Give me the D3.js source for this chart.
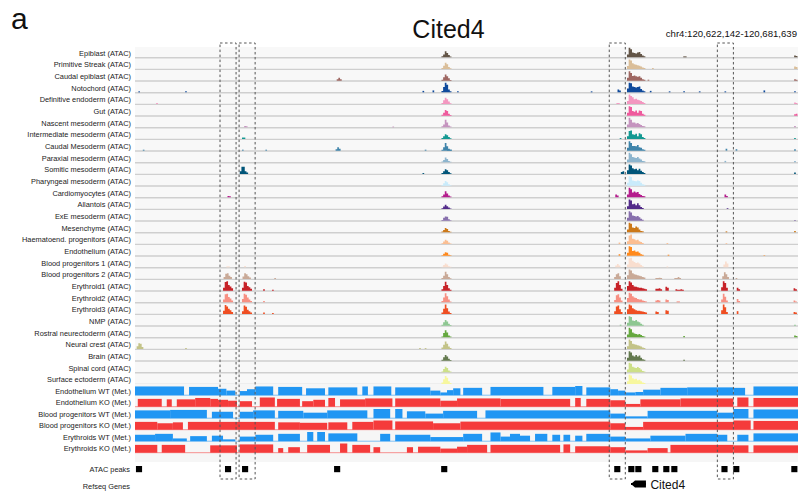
<!DOCTYPE html>
<html><head><meta charset="utf-8">
<script src="https://cdn.jsdelivr.net/npm/d3@7"></script>
<style>
html,body{margin:0;padding:0;background:#fff;}
svg{display:block;font-family:"Liberation Sans",Arial,Helvetica,sans-serif;}
</style></head><body>
<svg id="chart" width="798" height="494"></svg>
<script>
// ---- locus ----
const regionStart = 120622142, regionEnd = 120681639;
const regionLabel = "chr4:120,622,142-120,681,639";
const panelLetter = "a";
const geneTitle = "Cited4";

// ---- ATAC tracks ----
const atacLabels = ["Epiblast","Primitive Streak","Caudal epiblast","Notochord","Definitive endoderm","Gut",
  "Nascent mesoderm","Intermediate mesoderm","Caudal Mesoderm","Paraxial mesoderm","Somitic mesoderm",
  "Pharyngeal mesoderm","Cardiomyocytes","Allantois","ExE mesoderm","Mesenchyme","Haematoend. progenitors",
  "Endothelium","Blood progenitors 1","Blood progenitors 2","Erythroid1","Erythroid2","Erythroid3","NMP",
  "Rostral neurectoderm","Neural crest","Brain","Spinal cord","Surface ectoderm"];
const atacColors = ["#635547","#DABE99","#9e6762","#0F4A9C","#F397C0","#EF5A9D","#C594BF","#139992",
  "#3F84AA","#8DB5CE","#005579","#C9EBFB","#B51D8D","#532C8A","#8870ad","#cc7818","#FBBE92","#ff891c",
  "#f9decf","#c9a997","#C72228","#f79083","#EF4E22","#8EC792","#65A83E","#C3C388","#647a4f","#CDE088","#f7f79e"];

// signal bins are 0.15 kb wide; positions in kb from region start
const binKb = 0.15;
const centralStartKb = 27.5;
const clusterStartKb = 44.15;
const atacCentral = [
  [0.1,0.3,0.65,0.45,0.25,0.08],[0.1,0.35,0.65,0.5,0.2,0.08],[0.1,0.35,0.65,0.45,0.25,0.08],
  [0.15,0.55,1.0,0.8,0.3,0.1],[0.1,0.4,0.65,0.5,0.25,0.08],[0.1,0.3,0.6,0.5,0.2,0.08],
  [0.1,0.3,0.8,0.5,0.2,0.08],[0.1,0.3,0.5,0.4,0.2,0.08],[0.1,0.35,0.8,0.45,0.2,0.1],
  [0.08,0.25,0.5,0.35,0.15,0.05],[0.1,0.3,0.5,0.4,0.2,0.08],[0.08,0.25,0.5,0.35,0.15,0.05],
  [0.1,0.3,0.65,0.4,0.2,0.08],[0.08,0.25,0.45,0.3,0.15,0.05],[0.08,0.3,0.45,0.4,0.15,0.05],
  [0.08,0.25,0.45,0.35,0.15,0.05],[0.08,0.25,0.45,0.35,0.15,0.05],[0.05,0.2,0.35,0.3,0.1,0.05],
  [0.05,0.25,0.4,0.3,0.12,0.05],[0.1,0.35,0.75,0.5,0.2,0.08],[0.15,0.5,0.95,0.6,0.25,0.1],
  [0.15,0.5,0.95,0.65,0.3,0.1],[0.15,0.55,1.0,0.6,0.25,0.1],[0.1,0.35,0.6,0.45,0.2,0.08],
  [0.1,0.45,0.75,0.5,0.2,0.08],[0.15,0.45,0.8,0.55,0.25,0.1],[0.1,0.35,0.6,0.45,0.2,0.08],
  [0.1,0.35,0.6,0.45,0.2,0.08],[0.15,0.5,0.85,0.65,0.3,0.1]
];
const atacCluster = [
  [0.3,1,0.85,0.5,0.45,0.4,0.5,0.55,0.35,0.2,0.1],
  [0.3,1,0.9,0.6,0.5,0.45,0.4,0.35,0.25,0.15,0.1],
  [0.3,1,0.8,0.5,0.55,0.45,0.4,0.45,0.3,0.15,0.1],
  [0.4,1,0.95,0.6,0.55,0.5,0.55,0.6,0.35,0.2,0.1],
  [0.3,1,0.85,0.7,0.5,0.55,0.45,0.4,0.3,0.2,0.1],
  [0.3,1,0.9,0.5,0.4,0.55,0.3,0.55,0.5,0.2,0.1],
  [0.3,1,0.8,0.5,0.5,0.4,0.45,0.35,0.25,0.15,0.1],
  [0.3,0.85,0.9,0.5,0.45,0.55,0.3,0.6,0.5,0.2,0.1],
  [0.3,1,0.8,0.5,0.5,0.45,0.6,0.35,0.3,0.15,0.1],
  [0.3,1,0.85,0.55,0.5,0.45,0.55,0.4,0.3,0.15,0.1],
  [0.4,1,0.9,0.6,0.5,0.55,0.4,0.55,0.35,0.2,0.1],
  [0.3,1,0.9,0.55,0.5,0.45,0.55,0.5,0.3,0.15,0.1],
  [0.3,1,0.85,0.5,0.6,0.5,0.55,0.35,0.25,0.15,0.1],
  [0.3,1,0.9,0.5,0.55,0.4,0.6,0.4,0.2,0.1],
  [0.3,1,0.85,0.55,0.5,0.45,0.5,0.35,0.2,0.1],
  [0.3,1,0.9,0.5,0.45,0.6,0.5,0.3,0.15,0.1],
  [0.3,0.9,1,0.55,0.5,0.4,0.45,0.3,0.2,0.1],
  [0.3,1,0.9,0.5,0.55,0.4,0.45,0.3,0.15,0.1],
  [0.3,0.95,1,0.7,0.55,0.45,0.5,0.4,0.25,0.1],
  [0.4,1,0.9,0.6,0.5,0.45,0.4,0.35,0.3,0.2,0.15],
  [0.5,1,0.85,0.6,0.45,0.4,0.35,0.3,0.3,0.25,0.2,0.15],
  [0.45,1,0.9,0.65,0.5,0.45,0.35,0.3,0.3,0.2,0.15,0.1],
  [0.5,1,0.9,0.6,0.5,0.4,0.35,0.35,0.3,0.25,0.2,0.15],
  [0.3,1,0.9,0.55,0.5,0.6,0.45,0.35,0.2,0.1],
  [0.3,1,0.85,0.5,0.4,0.35,0.3,0.35,0.25,0.15,0.1],
  [0.3,1,0.85,0.55,0.5,0.45,0.4,0.35,0.25,0.15,0.1],
  [0.3,1,0.85,0.55,0.45,0.6,0.45,0.55,0.3,0.15,0.1],
  [0.3,1,0.9,0.6,0.5,0.45,0.55,0.45,0.3,0.15,0.1],
  [0.3,1,0.9,0.6,0.5,0.55,0.4,0.45,0.3,0.15,0.1]
];
// further peaks per track: [start kb, bin values]
const atacMinor = [
  [[49.2,[0.1,0.1]],[59.15,[0.2,0.15]]],
  [[46.4,[0.1]],[59.15,[0.25,0.2]]],
  [[18.1,[0.15,0.3,0.15]],[46.0,[0.1]],[59.15,[0.15,0.1]]],
  [[0.3,[0.1]],[4.5,[0.1]],[25.8,[0.15]],[26.7,[0.2]],[28.9,[0.1]],[40.9,[0.1]],[43.3,[0.3,0.2]],[46.2,[0.15]],[47.9,[0.1]],[49.2,[0.1]],[50.6,[0.1]],[52.9,[0.1]],[56.4,[0.2]],[59.15,[0.1]]],
  [[1.9,[0.1]],[43.2,[0.1,0.1]],[59.15,[0.15,0.1]]],
  [[59.15,[0.15,0.2]]],
  [[9.8,[0.15,0.1]],[23.1,[0.08]],[59.15,[0.15]]],
  [[9.6,[0.15,0.15]],[43.5,[0.1]],[59.15,[0.1]]],
  [[0.7,[0.1]],[9.6,[0.1]],[11.7,[0.1]],[18.0,[0.15,0.35,0.2]],[26.0,[0.1]],[28.0,[0.1,0.1,0.1]],[53.0,[0.2]],[53.9,[0.15]],[59.15,[0.15]]],
  [[52.9,[0.15]],[59.15,[0.15]]],
  [[9.4,[0.3,0.75,0.75,0.3,0.15]],[25.8,[0.1]],[43.6,[0.2,0.3]],[59.15,[0.15]]],
  [],
  [[8.3,[0.15,0.1]],[43.1,[0.3,0.2]],[52.9,[0.3,0.15]]],
  [[53.1,[0.08]]],
  [[59.15,[0.08]]],
  [[53.0,[0.1]],[59.15,[0.15]]],
  [[43.4,[0.15]],[47.7,[0.1]],[53.0,[0.08]]],
  [[43.4,[0.15]],[47.8,[0.1]],[56.4,[0.05]]],
  [[8.2,[0.1,0.1]],[9.8,[0.15]],[43.1,[0.2,0.35,0.2]],[47.7,[0.1]],[52.8,[0.3,0.6,0.4]]],
  [[7.95,[0.2,0.55,0.6,0.35,0.2]],[9.65,[0.25,0.6,0.5,0.3,0.15]],[12.5,[0.1]],[43.0,[0.2,0.5,0.6,0.3]],[46.7,[0.1,0.1,0.12,0.1]],[48.4,[0.1,0.1,0.2,0.1]],[52.7,[0.3,0.7,0.5,0.2]],[53.9,[0.1]]],
  [[7.9,[0.3,0.9,1.0,0.6,0.45,0.25]],[9.6,[0.3,0.95,0.85,0.5,0.35,0.2]],[11.5,[0.15]],[12.3,[0.1]],[43.0,[0.3,0.8,1.0,0.6,0.2]],[46.7,[0.2,0.2,0.25,0.15]],[47.6,[0.4,0.3]],[48.5,[0.15,0.1,0.1,0.15,0.1]],[52.6,[0.35,1.0,0.8,0.3]],[54.0,[0.3,0.15]],[59.1,[0.25,0.15]]],
  [[7.9,[0.3,0.85,0.9,0.55,0.4,0.2]],[9.6,[0.35,0.9,0.8,0.5,0.3,0.15]],[11.5,[0.15]],[43.0,[0.25,0.75,0.85,0.5,0.2]],[46.7,[0.2,0.25,0.2]],[47.6,[0.3,0.25]],[48.6,[0.1,0.1]],[52.6,[0.3,0.9,0.6,0.2]],[54.0,[0.35,0.15]],[59.1,[0.2,0.1]]],
  [[7.9,[0.35,0.95,0.8,0.55,0.4,0.2]],[9.6,[0.3,0.9,0.75,0.45,0.3,0.15]],[11.5,[0.15]],[12.3,[0.1]],[43.0,[0.3,0.8,0.9,0.5,0.2]],[46.7,[0.25,0.2]],[47.6,[0.4,0.35]],[52.6,[0.4,1.0,0.7,0.2]],[54.0,[0.3]],[59.1,[0.2,0.15]]],
  [[43.5,[0.1]],[59.15,[0.1]]],
  [[49.2,[0.15]],[59.15,[0.2,0.15]]],
  [[0.15,[0.3,0.6,0.55,0.2]],[4.5,[0.1]],[25.5,[0.1]],[26.0,[0.1]]],
  [[49.2,[0.1]]],
  [],
  []
];

// ---- methylation tracks: [start kb, end kb, level] ----
const metLabels = ["Endothelium WT (Met.)","Endothelium KO (Met.)","Blood progenitors WT (Met.)",
  "Blood progenitors KO (Met.)","Erythroids WT (Met.)","Erythroids KO (Met.)"];
const metColors = ["#2196f3","#f53b3b","#2196f3","#f53b3b","#2196f3","#f53b3b"];
const metEndoWT = [[0,4.4,0.95],[4.85,7.45,0.9],[7.45,8.2,0.7],[8.2,9.0,0.5],[9.4,10.05,0.45],[10.05,10.8,0.65],
  [10.8,12.4,0.95],[12.85,15.0,0.9],[15.35,17.05,0.75],[17.35,19.95,0.85],[20.4,20.9,0.95],[21.4,23.0,0.95],
  [23.35,26.5,0.85],[26.5,27.4,0.5],[27.4,28.0,0.3],[28.0,28.55,0.55],[28.55,29.2,0.75],[29.45,31.15,0.8],
  [31.9,36.65,0.9],[37.45,39.5,0.9],[39.5,40.15,1.0],[40.5,42.65,0.85],[42.65,43.35,0.65],[43.35,44.0,0.5],
  [44.0,44.9,0.3],[44.9,45.6,0.35],[45.6,47.15,0.6],[47.15,49.55,0.8],[49.55,52.25,0.85],[52.25,53.7,0.85],
  [53.7,54.75,0.8],[55.5,59.5,0.95]];
const metEndoKO = [[0.25,2.4,0.85],[2.85,3.3,0.8],[3.75,5.4,0.8],[5.4,6.75,0.95],[6.75,7.45,0.85],[7.45,8.35,0.75],
  [8.35,9.15,0.65],[9.4,10.5,0.6],[11.2,12.55,1.0],[12.75,14.8,0.85],[15.0,16.0,0.6],[16.0,17.05,0.75],
  [17.35,17.95,0.95],[18.4,20.65,0.8],[20.65,23.1,0.9],[23.35,27.4,0.9],[27.4,28.9,0.65],[28.9,32.8,0.9],
  [32.8,39.05,0.85],[39.5,40.0,0.95],[40.5,42.65,0.85],[42.65,44.0,0.7],[44.0,45.35,0.3],[45.35,48.95,0.8],
  [48.95,53.7,0.9],[54.05,55.05,1.0],[55.5,59.5,0.95]];
const metBloodWT = [[0,3.15,0.85],[3.15,6.45,0.9],[6.9,8.8,0.7],[9.4,10.6,0.7],[10.6,12.55,0.85],[12.85,15.1,0.8],
  [15.1,17.25,0.6],[17.25,20.85,0.85],[21.4,22.9,1.0],[23.35,24.0,1.0],[24.4,26.05,0.75],[26.05,27.65,0.5],
  [27.65,30.7,0.8],[31.45,42.65,0.85],[42.65,44.0,0.5],[44.0,46.0,0.2],[46.0,52.25,0.8],[52.25,53.7,0.6],
  [53.7,55.05,1.0],[55.5,59.5,0.95]];
const metBloodKO = [[0,2.0,0.85],[2.0,3.4,0.7],[3.4,4.3,0.8],[4.75,12.55,0.85],[12.85,14.8,0.8],[14.8,17.25,0.75],
  [17.35,19.05,0.8],[19.5,21.4,0.85],[21.4,23.1,1.0],[23.35,26.75,0.9],[26.75,29.2,0.7],[29.2,42.65,0.88],
  [42.65,44.0,0.7],[44.0,45.6,0.3],[45.6,53.7,0.85],[53.7,55.25,1.0],[55.5,59.5,0.95]];
const metEryWT = [[0,1.8,0.7],[1.8,3.4,0.8],[3.4,4.65,0.3],[4.95,6.45,0.55],[6.9,7.9,0.6],[7.9,9.0,0.2],
  [9.4,10.8,0.5],[10.8,12.4,0.7],[12.85,14.8,0.8],[15.45,16.0,1.0],[16.35,17.05,1.0],[17.35,19.95,0.85],
  [22.0,22.9,0.8],[23.35,26.5,0.7],[26.5,29.45,0.45],[29.45,31.15,0.8],[31.9,32.8,0.95],[32.8,33.65,0.5],
  [33.65,34.55,0.8],[34.55,35.45,0.6],[35.9,37.0,0.8],[37.45,38.15,0.7],[38.45,39.05,0.7],[39.5,40.15,0.6],
  [40.5,42.65,0.8],[42.65,44.0,0.5],[44.0,46.25,0.3],[46.25,49.4,0.6],[49.4,52.25,0.8],[52.25,53.15,0.7],
  [54.05,55.05,0.7],[55.5,59.5,0.85]];
const metEryKO = [[0,2.0,0.85],[2.4,4.5,0.85],[6.75,9.15,0.8],[9.4,12.4,0.9],[12.85,13.3,0.5],[13.75,14.8,0.6],
  [15.45,17.5,0.85],[18.4,19.05,1.0],[19.5,21.1,0.85],[21.4,22.0,0.6],[24.4,24.95,0.6],[25.4,27.4,0.65],
  [27.4,28.9,0.45],[28.9,29.8,0.65],[29.8,31.6,0.85],[31.9,38.15,0.85],[38.45,39.05,0.9],[39.5,42.65,0.7],
  [42.65,44.0,0.6],[44.0,46.0,0.25],[46.0,47.8,0.5],[48.05,53.7,0.85],[53.7,55.05,0.8],[55.5,59.5,0.8]];
const metTracks = [metEndoWT, metEndoKO, metBloodWT, metBloodKO, metEryWT, metEryKO];

// ---- annotation tracks ----
const peakTrackLabels = ["ATAC peaks", "Refseq Genes"];
const atacPeakCentersKb = [0.36, 8.35, 9.88, 18.14, 27.75, 43.28, 44.54, 45.17, 46.69, 47.68, 48.4, 52.9, 53.96, 59.17];
const atacPeakWidthKb = 0.55;
const geneName = "Cited4";
const geneSpanKb = [44.6, 45.85];
const highlightKb = [[7.63, 9.07], [9.34, 10.78], [42.56, 44.0], [52.26, 53.7]];

// ---- layout ----
const svg = d3.select("#chart");
const spanKb = (regionEnd - regionStart) / 1000;
const x = d3.scaleLinear().domain([0, spanKb]).range([135, 798]);
const atacBottom = d3.scaleLinear().domain([0, atacLabels.length - 1]).range([57.3, 384]);
const atacH = d3.scaleLinear().domain([0, 1]).range([0, 9.5]);
const metBottom = d3.scaleLinear().domain([0, metLabels.length - 1]).range([395.2, 452.7]);
const metH = d3.scaleLinear().domain([0, 1]).range([0, 9.2]);
const labelX = 131;

// headings
svg.append("text").attr("x", 11).attr("y", 29).attr("font-size", 30).attr("fill", "#111").text(panelLetter);
svg.append("text").attr("x", 448.5).attr("y", 38).attr("text-anchor", "middle").attr("font-size", 25).attr("fill", "#111").text(geneTitle);
svg.append("text").attr("x", 797).attr("y", 37).attr("text-anchor", "end").attr("font-size", 9.6).attr("fill", "#111").text(regionLabel);

// ATAC panel background
svg.append("rect").attr("x", x(0)).attr("y", 47).attr("width", x(spanKb) - x(0)).attr("height", atacBottom(atacLabels.length - 1) - 47).attr("fill", "#f8f8f8");

const area = (base) => d3.area().curve(d3.curveStepAfter)
  .x(d => x(d[0])).y0(base).y1(d => base - atacH(d[1]));

function peakPoints(start, vals) {
  const pts = vals.map((v, i) => [start + i * binKb, v]);
  pts.push([start + vals.length * binKb, 0]);
  return pts;
}

const atacG = svg.append("g");
atacLabels.forEach((name, i) => {
  const base = atacBottom(i);
  const g = atacG.append("g");
  g.append("line").attr("x1", x(0)).attr("x2", x(spanKb)).attr("y1", base + 0.4).attr("y2", base + 0.4)
    .attr("stroke", "#cfcfcf").attr("stroke-width", 1.4);
  const peaks = [[centralStartKb, atacCentral[i]], [clusterStartKb, atacCluster[i]], ...atacMinor[i]];
  peaks.forEach(([s, vals]) => {
    g.append("path").attr("d", area(base)(peakPoints(s, vals))).attr("fill", atacColors[i]);
  });
  svg.append("text").attr("x", labelX).attr("y", base - 4.3).attr("dy", "0.35em").attr("text-anchor", "end")
    .attr("font-size", 7.4).attr("fill", "#222").text(name + " (ATAC)");
});

// methylation panel
svg.append("rect").attr("x", x(0)).attr("y", 384).attr("width", x(spanKb) - x(0)).attr("height", 78).attr("fill", "#f6f6f6");
metLabels.forEach((name, j) => {
  const base = metBottom(j);
  const g = svg.append("g");
  g.append("line").attr("x1", x(0)).attr("x2", x(spanKb)).attr("y1", base).attr("y2", base)
    .attr("stroke", metColors[j]).attr("stroke-opacity", 0.55).attr("stroke-width", 1);
  g.selectAll("rect").data(metTracks[j]).join("rect")
    .attr("x", d => x(d[0])).attr("width", d => x(d[1]) - x(d[0]))
    .attr("y", d => base - metH(d[2])).attr("height", d => metH(d[2]))
    .attr("fill", metColors[j]);
  svg.append("text").attr("x", labelX).attr("y", base - 4.2).attr("dy", "0.35em").attr("text-anchor", "end")
    .attr("font-size", 7.4).attr("fill", "#222").text(name);
});

// ATAC peak calls
svg.append("text").attr("x", labelX - 1).attr("y", 469).attr("dy", "0.35em").attr("text-anchor", "end")
  .attr("font-size", 7.4).attr("fill", "#222").text(peakTrackLabels[0]);
svg.append("g").selectAll("rect").data(atacPeakCentersKb).join("rect")
  .attr("x", d => x(d - atacPeakWidthKb / 2)).attr("width", d => x(d + atacPeakWidthKb / 2) - x(d - atacPeakWidthKb / 2))
  .attr("y", 466).attr("height", 6.2).attr("fill", "#000");

// gene model (minus strand)
svg.append("text").attr("x", labelX - 1).attr("y", 486).attr("dy", "0.35em").attr("text-anchor", "end")
  .attr("font-size", 7.4).attr("fill", "#222").text(peakTrackLabels[1]);
const gx0 = x(geneSpanKb[0]), gx1 = x(geneSpanKb[1]);
svg.append("line").attr("x1", gx0 - 1).attr("x2", gx1).attr("y1", 484).attr("y2", 484).attr("stroke", "#000").attr("stroke-width", 2);
svg.append("path").attr("d", `M${gx0 - 1},484 L${gx0 + 3},480.5 L${gx1},480.5 L${gx1},487.5 L${gx0 + 3},487.5 Z`).attr("fill", "#000");
svg.append("text").attr("x", gx1 + 4.5).attr("y", 485).attr("dy", "0.35em").attr("font-size", 12).attr("fill", "#111").text(geneName);

// highlighted regions
const hl = svg.append("g").attr("fill", "none").attr("stroke", "#555").attr("stroke-width", 1).attr("stroke-dasharray", "2.5,2.5");
highlightKb.forEach(([s, e]) => {
  hl.append("rect").attr("x", x(s)).attr("y", 43).attr("width", x(e) - x(s)).attr("height", 436);
});
</script>
</body></html>
